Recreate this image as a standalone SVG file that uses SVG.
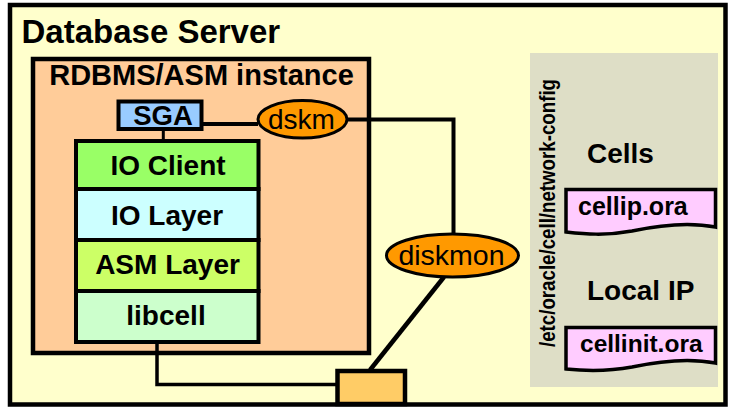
<svg xmlns="http://www.w3.org/2000/svg" width="730" height="408" viewBox="0 0 730 408">
<style>
text{font-family:"Liberation Sans",Arial,sans-serif;fill:#000}
.b{font-weight:bold}
.box{stroke:#000;stroke-width:4}
.ell{fill:#FF9900;stroke:#000;stroke-width:3}
.doc{fill:#FFCCFF;stroke:#000;stroke-width:3.5}
.ln{fill:none;stroke:#000}
</style>
<g id="database-server">
<rect x="10" y="5" width="715.5" height="399.5" fill="#FFFFCC" stroke="#000" stroke-width="4.5"/>
<text class="b" x="21.5" y="42.5" font-size="33">Database Server</text>
</g>
<g id="rdbms-instance">
<rect x="33" y="59" width="336" height="294" fill="#FFCC99" stroke="#000" stroke-width="4.5"/>
<text class="b" x="201.5" y="85" font-size="29" text-anchor="middle">RDBMS/ASM instance</text>
</g>
<g id="network-config">
<rect x="530" y="53" width="188" height="334" fill="#DEDEC6"/>
<text class="b" transform="translate(555,213) rotate(-90)" font-size="22" text-anchor="middle" textLength="268" lengthAdjust="spacingAndGlyphs">/etc/oracle/cell/network-config</text>
</g>
<g id="connectors">
<line class="ln" x1="163.3" y1="129" x2="163.3" y2="141" stroke-width="3"/>
<line class="ln" x1="202" y1="124" x2="258" y2="124" stroke-width="4"/>
<polyline class="ln" points="346,119.5 453.5,119.5 453.5,234" stroke-width="4"/>
<line class="ln" x1="444" y1="277" x2="370" y2="370" stroke-width="4.5"/>
<polyline class="ln" points="157,342 157,384.5 337,384.5" stroke-width="3.5"/>
</g>
<g id="sga">
<rect class="box" x="118.5" y="101.5" width="83" height="27.5" fill="#99CCFF"/>
<text class="b" x="163" y="125" font-size="27.5" text-anchor="middle">SGA</text>
</g>
<g id="dskm">
<ellipse class="ell" cx="302.5" cy="119.3" rx="44.5" ry="18.7"/>
<text x="301.5" y="129.3" font-size="28" text-anchor="middle">dskm</text>
</g>
<g id="io-client">
<rect class="box" x="76" y="141" width="182.5" height="48" fill="#99FF66"/>
<text class="b" x="168" y="175" font-size="28" text-anchor="middle">IO Client</text>
</g>
<g id="io-layer">
<rect class="box" x="76" y="189" width="182.5" height="51" fill="#CCFFFF"/>
<text class="b" x="167" y="225" font-size="28" text-anchor="middle">IO Layer</text>
</g>
<g id="asm-layer">
<rect class="box" x="76" y="240" width="182.5" height="51" fill="#CCFF66"/>
<text class="b" x="167.5" y="274" font-size="28" text-anchor="middle">ASM Layer</text>
</g>
<g id="libcell">
<rect class="box" x="76" y="291" width="182.5" height="51" fill="#CCFFCC"/>
<text class="b" x="166" y="325" font-size="28" text-anchor="middle">libcell</text>
</g>
<g id="diskmon">
<ellipse class="ell" cx="452.5" cy="255.5" rx="66" ry="21.5"/>
<text x="451.5" y="265" font-size="28.5" text-anchor="middle">diskmon</text>
</g>
<g id="device">
<rect x="337.5" y="371" width="67.5" height="33" fill="#FFCC66" stroke="#000" stroke-width="4.5"/>
</g>
<g id="cells">
<text class="b" x="587" y="163" font-size="28">Cells</text>
<path class="doc" d="M566,189.5 H715.5 V227 C690,222 660,225 632,231 C605,236 585,234 566,232 Z"/>
<text class="b" x="578" y="215" font-size="25">cellip.ora</text>
</g>
<g id="local-ip">
<text class="b" x="587" y="300" font-size="28">Local IP</text>
<path class="doc" d="M566,327.5 H715.5 V363 C690,358 660,361 632,367 C605,372 585,371 566,369 Z"/>
<text class="b" x="580" y="352" font-size="24.5">cellinit.ora</text>
</g>
</svg>
